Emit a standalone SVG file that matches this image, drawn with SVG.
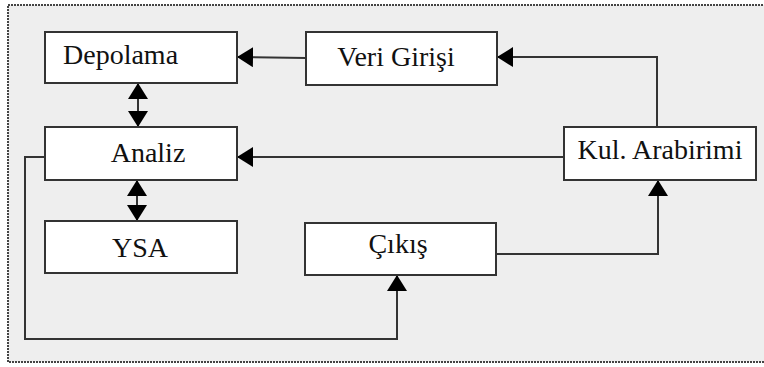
<svg xmlns="http://www.w3.org/2000/svg" width="764" height="367" viewBox="0 0 764 367">
<defs>
<style>
.box{fill:#ffffff;stroke:#333333;stroke-width:2}
.c{fill:none;stroke:#333333;stroke-width:2}
</style>
<marker id="ah" viewBox="0 0 16 20" refX="16" refY="10" markerWidth="16" markerHeight="20" markerUnits="userSpaceOnUse" orient="auto-start-reverse">
<path d="M0,0 L16,10 L0,20 Z" fill="#000000"/>
</marker>
</defs>
<rect x="0" y="0" width="764" height="367" fill="#ffffff"/>
<rect x="8" y="5" width="780" height="357" fill="#eeeeee" stroke="#444444" stroke-width="2" stroke-dasharray="2,1"/>
<g id="connectors">
<path class="c" d="M306,58 L237,57" marker-end="url(#ah)"/>
<path class="c" d="M657,127 L657,57 L497,57" marker-end="url(#ah)"/>
<path class="c" d="M564,157 L237,157" marker-end="url(#ah)"/>
<path class="c" d="M138,83 L138,127" marker-start="url(#ah)" marker-end="url(#ah)"/>
<path class="c" d="M137,180 L137,221" marker-start="url(#ah)" marker-end="url(#ah)"/>
<path class="c" d="M496,254 L658,254 L658,180" marker-end="url(#ah)"/>
<path class="c" d="M45,157 L25,157 L25,339 L397,339 L397,275" marker-end="url(#ah)"/>
</g>
<g font-family="Liberation Serif, Times New Roman, serif" font-size="28" fill="#111111">
<g id="depolama">
<rect class="box" x="45" y="32" width="192" height="51"/>
<text x="63" y="64">Depolama</text>
</g>
<g id="veri-girisi">
<rect class="box" x="306" y="32" width="191" height="53"/>
<text x="396" y="66" text-anchor="middle">Veri Girişi</text>
</g>
<g id="analiz">
<rect class="box" x="45" y="127" width="192" height="53"/>
<text x="148" y="162" text-anchor="middle">Analiz</text>
</g>
<g id="kul-arabirimi">
<rect class="box" x="564" y="127" width="192" height="53"/>
<text x="660" y="159" text-anchor="middle">Kul. Arabirimi</text>
</g>
<g id="ysa">
<rect class="box" x="45" y="221" width="192" height="52"/>
<text x="140" y="257" text-anchor="middle">YSA</text>
</g>
<g id="cikis">
<rect class="box" x="305" y="223" width="191" height="52"/>
<text x="398" y="253" text-anchor="middle">Çıkış</text>
</g>
</g>
</svg>
